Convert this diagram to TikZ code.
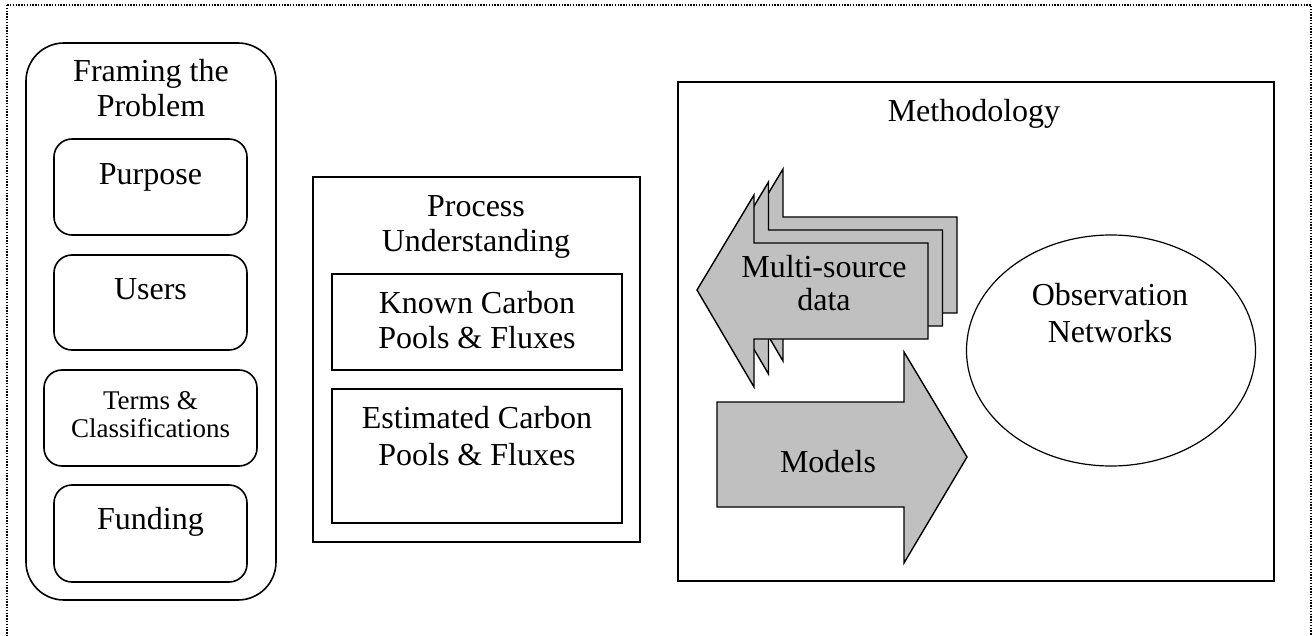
\documentclass[tikz,border=0pt]{standalone}
\usepackage{fontspec}
\setmainfont{Liberation Serif}
\usetikzlibrary{shapes.geometric}
\definecolor{arrowgray}{RGB}{192,192,192}
\begin{document}
\begin{tikzpicture}[x=1pt,y=-1pt,
  boxline/.style={draw, line width=1.6pt, inner sep=0pt},
  roundbox/.style={boxline, rounded corners=18pt},
  txt/.style={inner sep=0pt, anchor=base, align=center,
    font=\fontsize{32}{35}\selectfont},
  smalltxt/.style={txt, font=\fontsize{27}{28}\selectfont},
  bigarrow/.style={draw, line width=1.4pt, fill=arrowgray, line join=miter}]
\useasboundingbox (0,0) rectangle (1314,636);

% dotted outer frame, open at the bottom edge of the page
\begin{scope}
  \clip (0,0) rectangle (1314,636);
  \draw[line width=1.4pt, dash pattern=on 1.4pt off 1.4pt] (7,5) rectangle (1311,680);
\end{scope}

% text nodes below are placed at the baseline of their last line

% ---- Framing the Problem ----
\node[roundbox, rounded corners=38pt, minimum width=250pt, minimum height=557pt] (framing) at (151,321.5) {};
\node[txt] (framingtxt) at (151,117) {Framing the\\Problem};
\node[roundbox, minimum width=193pt, minimum height=96pt] (purpose) at (150.5,187) {};
\node[txt] (purposetxt) at (150.5,185) {Purpose};
\node[roundbox, minimum width=193pt, minimum height=95pt] (users) at (150.5,302.5) {};
\node[txt] (userstxt) at (150.5,299) {Users};
\node[roundbox, minimum width=213pt, minimum height=96pt] (terms) at (150.5,418) {};
\node[smalltxt] (termstxt) at (150.5,437) {Terms \&\\Classifications};
\node[roundbox, minimum width=193pt, minimum height=97pt] (funding) at (150.5,533.5) {};
\node[txt] (fundingtxt) at (150.5,529) {Funding};

% ---- Process Understanding ----
\node[boxline, minimum width=327pt, minimum height=365pt] (process) at (476.5,359.5) {};
\node[txt] (processtxt) at (476,252) {Process\\Understanding};
\node[boxline, minimum width=290pt, minimum height=96pt] (known) at (477,322) {};
\node[txt] (knowntxt) at (477,348) {Known Carbon\\Pools \& Fluxes};
\node[boxline, minimum width=290pt, minimum height=134pt] (estimated) at (477,456) {};
\node[txt, font=\fontsize{32}{37}\selectfont] (estimatedtxt) at (477,465) {Estimated Carbon\\Pools \& Fluxes};

% ---- Methodology ----
\node[boxline, minimum width=596pt, minimum height=499pt] (method) at (976,331.5) {};
\node[txt] (methodtxt) at (974,122) {Methodology};

% stacked data arrows, back to front
\foreach \dx/\dy in {29/-26, 14.5/-13, 0/0}
  \draw[bigarrow, shift={(\dx,\dy)}] (697,290) -- (754,195) -- (754,243) -- (928,243)
    -- (928,339) -- (754,339) -- (754,387) -- cycle;
\node[txt, font=\fontsize{32}{33}\selectfont] (datatxt) at (824,310) {Multi-source\\data};

% models arrow
\draw[bigarrow] (717,402) -- (904,402) -- (904,352) -- (967,457) -- (904,563)
  -- (904,507) -- (717,507) -- cycle;
\node[txt] (modelstxt) at (828,472) {Models};

% observation networks
\node[draw, ellipse, line width=1.2pt, inner sep=0pt, minimum width=289pt, minimum height=231pt] (obs) at (1111,350.5) {};
\node[txt, font=\fontsize{32}{37}\selectfont] (obstxt) at (1110,342) {Observation\\Networks};
\end{tikzpicture}
\end{document}
